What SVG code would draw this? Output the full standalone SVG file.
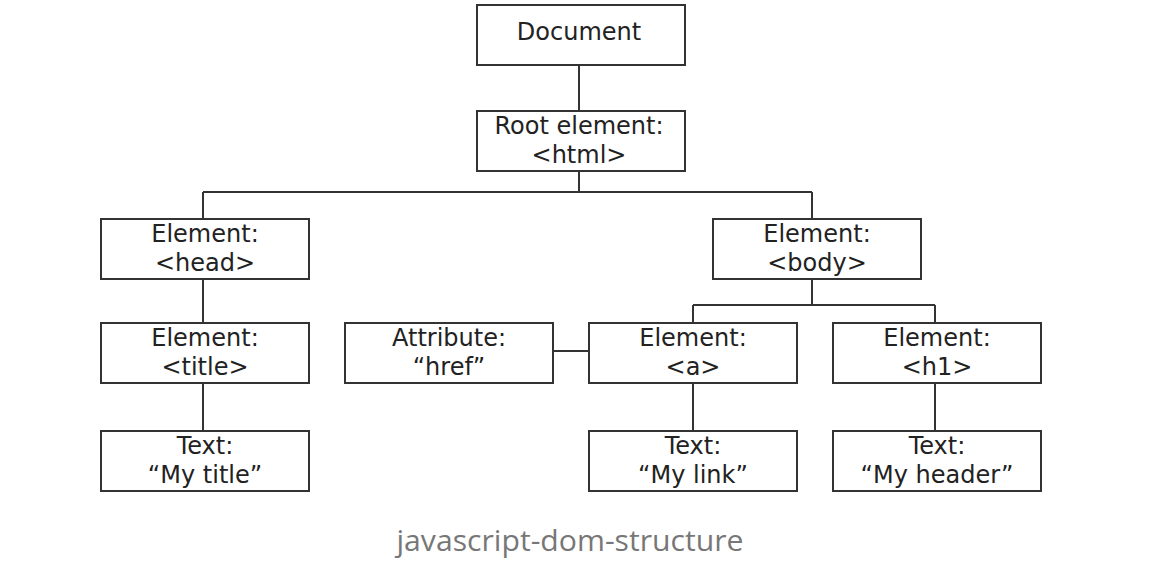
<svg xmlns="http://www.w3.org/2000/svg" width="1158" height="570" viewBox="0 0 1158 570">
<style>
.box rect{fill:#fff;stroke:#333;stroke-width:2}
.box text{font-family:"DejaVu Sans",Verdana,sans-serif;font-size:24px;fill:#222;text-anchor:middle}
.conn{fill:none;stroke:#333;stroke-width:2}
.cap{font-family:"Open Sans","Noto Sans",sans-serif;font-size:29px;fill:#777;text-anchor:middle}
</style>
<rect width="1158" height="570" fill="#fff"/>
<g id="connectors" class="conn">
<path d="M579 65V111"/>
<path d="M579 171V192M203 192H812M203 192V219M812 192V219"/>
<path d="M203 279V323"/>
<path d="M203 383V431"/>
<path d="M812 279V305M693 305H935M693 305V323M935 305V323"/>
<path d="M553 351H589"/>
<path d="M693 383V431"/>
<path d="M935 383V431"/>
</g>
<g id="document" class="box"><rect x="477" y="5" width="208" height="60"/><text x="579" y="40">Document</text></g>
<g id="root" class="box"><rect x="477" y="111" width="208" height="60"/><text x="579" y="134">Root element:</text><text x="579" y="163">&lt;html&gt;</text></g>
<g id="head" class="box"><rect x="101" y="219" width="208" height="60"/><text x="205" y="242">Element:</text><text x="205" y="271">&lt;head&gt;</text></g>
<g id="body" class="box"><rect x="713" y="219" width="208" height="60"/><text x="817" y="242">Element:</text><text x="817" y="271">&lt;body&gt;</text></g>
<g id="title" class="box"><rect x="101" y="323" width="208" height="60"/><text x="205" y="346">Element:</text><text x="205" y="375">&lt;title&gt;</text></g>
<g id="attr" class="box"><rect x="345" y="323" width="208" height="60"/><text x="449" y="346">Attribute:</text><text x="449" y="375">“href”</text></g>
<g id="a" class="box"><rect x="589" y="323" width="208" height="60"/><text x="693" y="346">Element:</text><text x="693" y="375">&lt;a&gt;</text></g>
<g id="h1" class="box"><rect x="833" y="323" width="208" height="60"/><text x="937" y="346">Element:</text><text x="937" y="375">&lt;h1&gt;</text></g>
<g id="text-title" class="box"><rect x="101" y="431" width="208" height="60"/><text x="205" y="454">Text:</text><text x="205" y="483">“My title”</text></g>
<g id="text-link" class="box"><rect x="589" y="431" width="208" height="60"/><text x="693" y="454">Text:</text><text x="693" y="483">“My link”</text></g>
<g id="text-header" class="box"><rect x="833" y="431" width="208" height="60"/><text x="937" y="454">Text:</text><text x="937" y="483">“My header”</text></g>
<text class="cap" x="570" y="551" textLength="347" lengthAdjust="spacingAndGlyphs">javascript-dom-structure</text>
</svg>
